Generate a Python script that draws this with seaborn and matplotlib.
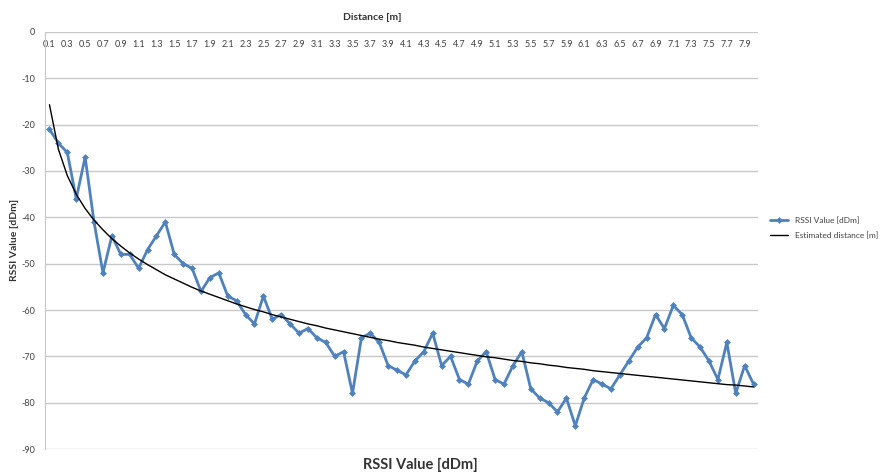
import numpy as np
import pandas as pd
import matplotlib
matplotlib.use("Agg")
import matplotlib.pyplot as plt
import seaborn as sns

# distance categories 0.1 .. 8.0 m
distance = [round(0.1 * i, 1) for i in range(1, 81)]

rssi = [-21, -24, -26, -36, -27, -41, -52, -44, -48, -48,
        -51, -47, -44, -41, -48, -50, -51, -56, -53, -52,
        -57, -58, -61, -63, -57, -62, -61, -63, -65, -64,
        -66, -67, -70, -69, -78, -66, -65, -67, -72, -73,
        -74, -71, -69, -65, -72, -70, -75, -76, -71, -69,
        -75, -76, -72, -69, -77, -79, -80, -82, -79, -85,
        -79, -75, -76, -77, -74, -71, -68, -66, -61, -64,
        -59, -61, -66, -68, -71, -75, -67, -78, -72, -76]

# estimated curve
estimated = [-15.7, -25.3, -31.0, -35.0, -38.1, -40.6, -42.7, -44.6, -46.2, -47.7,
             -49.0, -50.2, -51.3, -52.4, -53.3, -54.2, -55.1, -55.9, -56.6, -57.3,
             -58.0, -58.7, -59.3, -59.9, -60.4, -61.0, -61.5, -62.0, -62.5, -63.0,
             -63.4, -63.9, -64.3, -64.7, -65.1, -65.5, -65.9, -66.3, -66.6, -67.0,
             -67.3, -67.6, -68.0, -68.3, -68.6, -68.9, -69.2, -69.5, -69.8, -70.1,
             -70.3, -70.6, -70.9, -71.1, -71.4, -71.6, -71.9, -72.1, -72.4, -72.6,
             -72.8, -73.1, -73.3, -73.5, -73.7, -73.9, -74.1, -74.3, -74.5, -74.7,
             -74.9, -75.1, -75.3, -75.5, -75.7, -75.9, -76.1, -76.2, -76.4, -76.6]

y_ticks = list(range(0, -100, -10))
x_ticks = distance[::2]

df = pd.DataFrame({"distance": distance, "rssi": rssi, "estimated": estimated})

sns.set_style("white")
plt.rcParams['font.family'] = ['Lato', 'DejaVu Sans']

fig = plt.figure(figsize=(8.81, 4.75), dpi=100)
ax = fig.add_axes([0.0511, 0.0547, 0.8093, 0.878])

sns.lineplot(data=df, x="distance", y="rssi", ax=ax, color="#4F81BD", linewidth=2.0,
             marker="D", markersize=3.5, markeredgewidth=0, label="RSSI Value [dDm]")
sns.lineplot(data=df, x="distance", y="estimated", ax=ax, color="black", linewidth=1.0,
             label="Estimated distance [m]")

ax.set_xlim(0.05, 8.05)
ax.set_ylim(-90, 0)
ax.set_yticks(y_ticks)
ax.set_yticklabels([str(v) for v in y_ticks], fontsize=6.5, color="#404040")
ax.yaxis.grid(True, color="#c8c8c8", linewidth=1.0)
ax.set_axisbelow(True)

ax.xaxis.tick_top()
ax.set_xticks(x_ticks)
ax.set_xticklabels([f"{v:.1f}" for v in x_ticks], fontsize=6.5, color="#404040")
ax.tick_params(axis="x", length=0, pad=-12)
ax.tick_params(axis="y", length=3, color="#c8c8c8", pad=4)
ax.set_xlabel("")
ax.set_ylabel("")

for s in ["right", "bottom", "top"]:
    ax.spines[s].set_visible(False)
ax.spines["left"].set_color("#c8c8c8")

fig.text(0.423, 0.964, "Distance [m]", ha="center", va="center", fontsize=7.5, fontweight="bold", color="#333333")
fig.text(0.017, 0.495, "RSSI Value [dDm]", ha="center", va="center", rotation=90, fontsize=7.5, fontweight="bold", color="#333333")
fig.text(0.477, 0.021, "RSSI Value [dDm]", ha="center", va="center", fontsize=10.5, fontweight="bold", color="#333333")

ax.legend(loc="center left", bbox_to_anchor=(1.008, 0.53), frameon=False, fontsize=6,
          handlelength=2.2, handletextpad=0.8, labelspacing=0.9, borderaxespad=0.3)
for t in ax.get_legend().get_texts():
    t.set_color("#404040")

fig.savefig("out.png", dpi=100)
